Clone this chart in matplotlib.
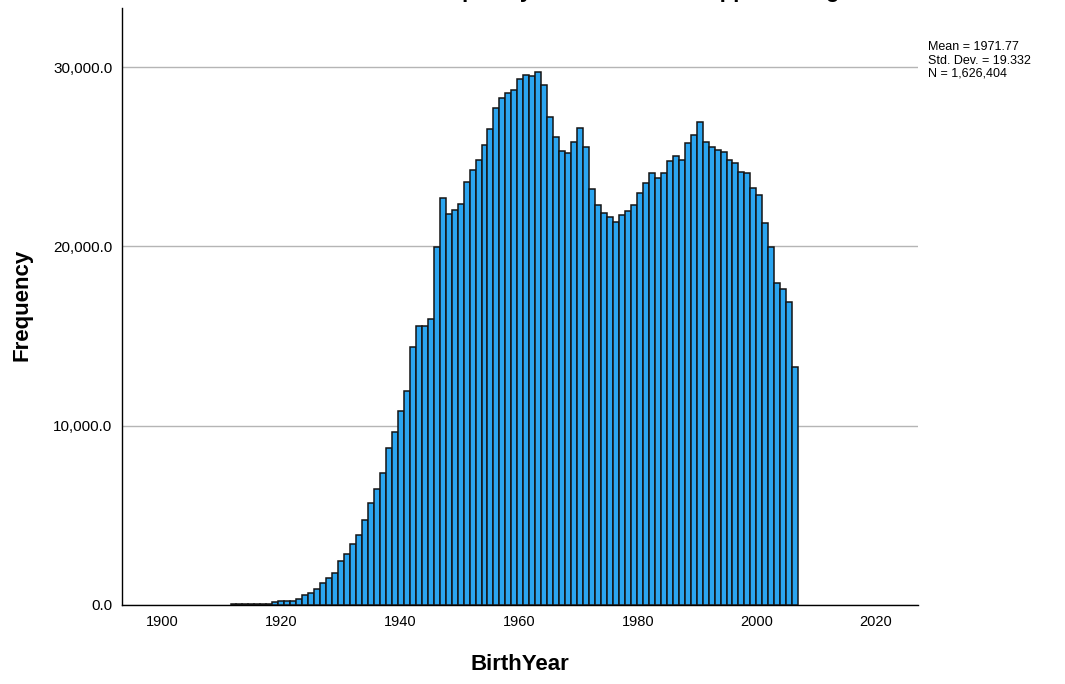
import numpy as np
import matplotlib
matplotlib.use("Agg")
import matplotlib.pyplot as plt

# ---- data ----
years = list(range(1912, 2007))
freq = [
    80, 80, 80, 80, 80, 80, 80,                  # 1912-1918
    170, 200, 220, 250, 320, 560, 650, 890, 1210, 1520,   # 1919-1928
    1800, 2450, 2840, 3420, 3920, 4740, 5670, 6470, 7360, 8770,  # 1929-1938
    9650, 10800, 11950, 14410, 15560, 15560, 15950,        # 1939-1945
    19980, 22720, 21790, 22030, 22360, 23590, 24260, 24820, 25650, 26550,  # 1946-1955
    27700, 28260, 28540, 28690, 29340, 29580, 29500, 29740, 29000, 27200,  # 1956-1965
    26120, 25320, 25230, 25810, 26620, 25560, 23180, 22290, 21880, 21660,  # 1966-1975
    21380, 21720, 21970, 22290, 23000, 23520, 24110, 23830, 24110, 24750,  # 1976-1985
    25060, 24820, 25750, 26210, 26960, 25810, 25560, 25380, 25250, 24820,  # 1986-1995
    24670, 24170, 24110, 23270, 22870, 21320, 19980, 17940, 17620, 16880,  # 1996-2005
    13290,                                                               # 2006
]
x_ticks = [1900, 1920, 1940, 1960, 1980, 2000, 2020]
y_ticks = [0, 10000, 20000, 30000]
y_tick_labels = ["0.0", "10,000.0", "20,000.0", "30,000.0"]
stats_lines = ["Mean = 1971.77", "Std. Dev. = 19.332", "N = 1,626,404"]
title = "Frequency Distribution for Applicant Age"
x_label = "BirthYear"
y_label = "Frequency"

# ---- style ----
plt.rcParams["font.family"] = ["Liberation Sans", "DejaVu Sans"]
BAR_COLOR = "#2ba5f0"
EDGE_COLOR = "#141414"
BIN_WIDTH = 1.0045
BIN_START = 1911.54

fig = plt.figure(figsize=(10.65, 6.84), dpi=100)
ax = fig.add_axes([122 / 1065, 1 - 605 / 684, (918 - 122) / 1065, (605 - 8) / 684])

yrs = np.array(years)
lefts = BIN_START + BIN_WIDTH * (yrs - yrs[0])
ax.bar(lefts, freq, width=BIN_WIDTH, align="edge", color=BAR_COLOR,
       edgecolor=EDGE_COLOR, linewidth=1.1, zorder=3)

ax.set_xlim(1893.3, 2027.1)
ax.set_ylim(0, 33290)
ax.set_xticks(x_ticks)
ax.set_xticklabels([str(t) for t in x_ticks], fontsize=10.5)
ax.set_yticks(y_ticks)
ax.set_yticklabels(y_tick_labels, fontsize=11)
ax.tick_params(length=0, pad=7)
ax.yaxis.grid(True, color="#b5b5b5", linewidth=1.0, zorder=0)
ax.set_axisbelow(True)
for s in ["top", "right"]:
    ax.spines[s].set_visible(False)
for s in ["left", "bottom"]:
    ax.spines[s].set_linewidth(1.0)
    ax.spines[s].set_color("black")

fig.text(520 / 1065, 1 - 665 / 684, x_label, ha="center", va="center",
         fontsize=16, fontweight="bold")
fig.text(22 / 1065, 1 - 305 / 684, y_label, ha="center", va="center",
         rotation=90, fontsize=16, fontweight="bold")

for i, line in enumerate(stats_lines):
    fig.text(928 / 1065, 1 - (47.5 + 13 * i) / 684, line, ha="left", va="center",
             fontsize=9)

fig.text(420 / 1065, 1 + 3 / 684, title, ha="left", va="baseline",
         fontsize=16, fontweight="bold")

fig.savefig("out.png", dpi=100)
